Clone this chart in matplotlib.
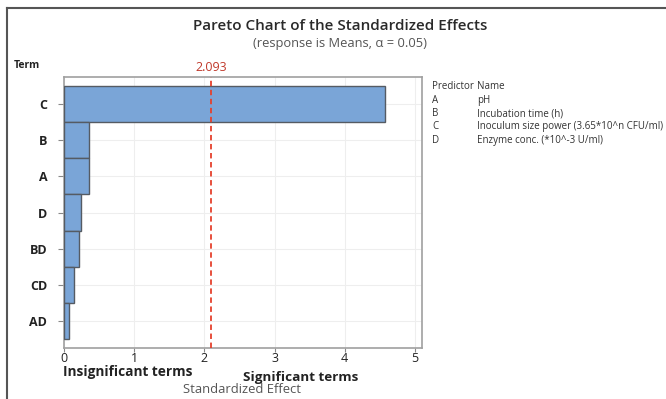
import matplotlib.pyplot as plt
from matplotlib.lines import Line2D

terms = ["C", "B", "A", "D", "BD", "CD", "AD"]
effects = [4.58, 0.36, 0.35, 0.24, 0.21, 0.14, 0.07]
critical = 2.093
xticks = [0, 1, 2, 3, 4, 5]
predictors = ["A", "B", "C", "D"]
names = ["pH", "Incubation time (h)", "Inoculum size power (3.65*10^n CFU/ml)",
         "Enzyme conc. (*10^-3 U/ml)"]

plt.rcParams['font.family'] = ['Open Sans', 'DejaVu Sans']

fig = plt.figure(figsize=(6.66, 3.99), dpi=100)
ax = fig.add_axes([0.0961, 0.1278, 0.5375, 0.679])

pos = list(range(len(terms)))
ax.barh(pos, effects, height=1.0, color="#7aa5d7", edgecolor="#555b63", linewidth=1.0, zorder=3)
ax.axvline(critical, color="#e5412d", linestyle=(0, (3, 2)), linewidth=1.3, zorder=4)

ax.set_ylim(6.75, -0.75)
ax.set_xlim(0, 5.1)
ax.set_yticks(pos)
ax.set_yticklabels(terms, fontsize=9, fontweight="bold", color="#222222")
ax.set_xticks(xticks)
ax.set_xticklabels([str(t) for t in xticks], fontsize=9, color="#222222")
ax.tick_params(axis="y", length=4, color="#888888", pad=8)
ax.tick_params(axis="x", length=3, color="#888888", pad=0)
ax.grid(True, color="#eeeeee", linewidth=0.8, zorder=0)
for s in ax.spines.values():
    s.set_color("#a0a0a0")
    s.set_linewidth(1.2)

ax.text(critical, 1.01, "2.093", transform=ax.get_xaxis_transform(), ha="center", va="bottom",
        color="#c0392b", fontsize=9)

fig.text(0.511, 0.935, "Pareto Chart of the Standardized Effects", ha="center", va="center",
         fontsize=11, fontweight="semibold", color="#2a2a2a")
fig.text(0.511, 0.891, "(response is Means, \u03b1 = 0.05)", ha="center", va="center",
         fontsize=9.3, color="#555555")
fig.text(0.04, 0.835, "Term", ha="center", va="center", fontsize=7.5, fontweight="bold", color="#222222")

fig.text(0.0946, 0.067, "Insignificant terms", ha="left", va="center", fontsize=9.8,
         fontweight="bold", color="#222222")
fig.text(0.365, 0.055, "Significant terms", ha="left", va="center", fontsize=9.7,
         fontweight="bold", color="#222222")
fig.text(0.364, 0.023, "Standardized Effect", ha="center", va="center", fontsize=9.4, color="#555555")

# predictor legend to the right of the plot
fig.text(0.6486, 0.782, "Predictor", ha="left", va="center", fontsize=7, color="#333333")
fig.text(0.716, 0.782, "Name", ha="left", va="center", fontsize=7, color="#333333")
for i, (p, n) in enumerate(zip(predictors, names)):
    y = 0.782 - (i + 1) * 0.0333
    fig.text(0.6486, y, p, ha="left", va="center", fontsize=7, color="#333333")
    fig.text(0.716, y, n, ha="left", va="center", fontsize=7, color="#333333")

# outer frame (top and left edges)
fig.add_artist(Line2D([0.0105, 1.0], [0.98, 0.98], color="#555555", linewidth=1.5))
fig.add_artist(Line2D([0.0105, 0.0105], [0.0, 0.98], color="#555555", linewidth=1.5))

fig.savefig("out.png", dpi=100)
